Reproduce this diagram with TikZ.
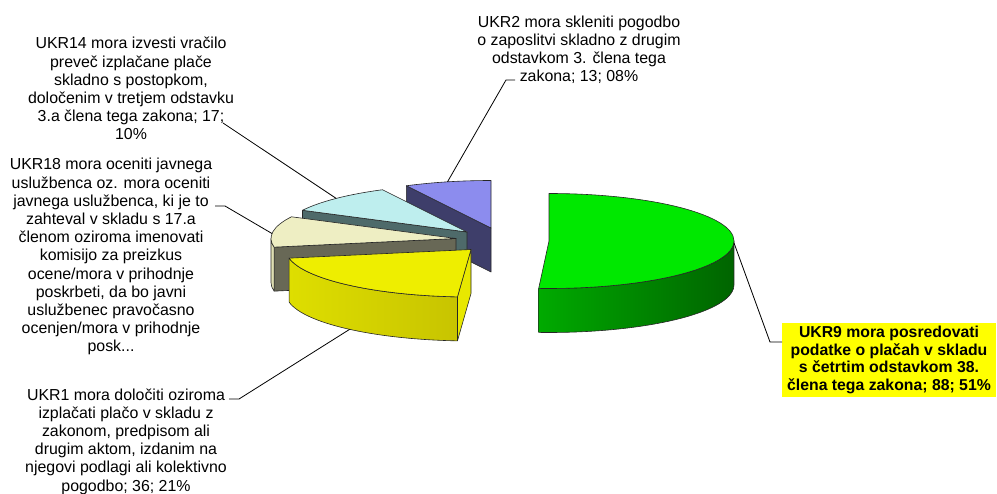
\documentclass[tikz,border=0pt]{standalone}
\usepackage{fontspec}
\setmainfont{Liberation Sans}
\definecolor{greentop}{RGB}{0,232,0}
\definecolor{greenlit}{RGB}{0,170,0}
\definecolor{greenmid}{RGB}{0,130,0}
\definecolor{greendark}{RGB}{0,100,0}
\definecolor{yellowtop}{RGB}{238,238,0}
\definecolor{yellowleft}{RGB}{222,222,0}
\definecolor{yellowdark}{RGB}{198,194,0}
\definecolor{yellowface}{RGB}{232,232,0}
\definecolor{beigetop}{RGB}{238,238,195}
\definecolor{beigewall}{RGB}{222,222,178}
\definecolor{beigeface}{RGB}{104,104,86}
\definecolor{cyantop}{RGB}{190,238,238}
\definecolor{cyanface}{RGB}{78,106,106}
\definecolor{lavtop}{RGB}{140,140,238}
\definecolor{lavface}{RGB}{62,62,106}
\definecolor{notefill}{RGB}{255,255,0}
\begin{document}
\begin{tikzpicture}[x=1pt,y=-1pt]
	\tikzset{
		slicerim/.style={draw=black!85,line width=0.6pt,line join=round},
		ell/.style={x radius=185,y radius=47.5},
		lbl/.style={align=center,inner sep=0pt,anchor=base,font=\fontsize{15.9}{18.2}\selectfont},
		lead/.style={draw=black,line width=0.8pt}
	}
	\useasboundingbox (0,0) rectangle (997,494);

	\coordinate (L) at (491,228);
	\coordinate (Lb) at (491,272);
	\coordinate (Cy) at (467,232);
	\coordinate (Cyb) at (467,276);
	\coordinate (B) at (456,238.5);
	\coordinate (Bb) at (456,282.5);
	\coordinate (Y) at (471,249.5);
	\coordinate (Yb) at (471,293.5);
	\coordinate (G) at (549,241);

	\filldraw[slicerim,fill=lavface] (L) -- ++(242.8:185 and 47.5) -- ++(0,44) -- (Lb) -- cycle;
	\filldraw[slicerim,fill=lavtop] (L) -- ++(242.8:185 and 47.5) arc[ell,start angle=242.8,end angle=270] -- cycle;

	\filldraw[slicerim,fill=cyanface] (Cy) -- ++(207.2:185 and 47.5) -- ++(0,44) -- (Cyb) -- cycle;
	\filldraw[slicerim,fill=cyantop] (Cy) -- ++(207.2:185 and 47.5) arc[ell,start angle=207.2,end angle=242.8] -- cycle;

	\filldraw[slicerim,fill=beigeface] (B) -- ++(169.5:185 and 47.5) -- ++(0,44) -- (Bb) -- cycle;
	\filldraw[slicerim,fill=beigewall] (B) ++(169.5:185 and 47.5) arc[ell,start angle=169.5,end angle=180] -- ++(0,44) arc[ell,start angle=180,end angle=169.5] -- cycle;
	\filldraw[slicerim,fill=beigetop] (B) -- ++(169.5:185 and 47.5) arc[ell,start angle=169.5,end angle=207.2] -- cycle;

	\filldraw[slicerim,fill=yellowface] (Y) -- ++(94.2:185 and 47.5) -- ++(0,44) -- (Yb) -- cycle;
	\shadedraw[slicerim,left color=yellowleft,middle color=yellowtop,right color=yellowdark] (Y) ++(94.2:185 and 47.5) arc[ell,start angle=94.2,end angle=169.5] -- ++(0,44) arc[ell,start angle=169.5,end angle=94.2] -- cycle;
	\filldraw[slicerim,fill=yellowtop] (Y) -- ++(94.2:185 and 47.5) arc[ell,start angle=94.2,end angle=169.5] -- cycle;

	\shadedraw[slicerim,left color=greenlit,middle color=greenmid,right color=greendark] (G) ++(0:185 and 47.5) arc[ell,start angle=0,end angle=93.2] -- ++(0,44) arc[ell,start angle=93.2,end angle=0] -- cycle;
	\filldraw[slicerim,fill=greentop] (G) -- ++(-90:185 and 47.5) arc[ell,start angle=-90,end angle=93.2] -- cycle;

	\path (L) ++(256.4:185 and 47.5) coordinate (p2);
	\path (Cy) ++(225:185 and 47.5) coordinate (p14);
	\path (B) ++(186:185 and 47.5) coordinate (p18);
	\path (Yb) ++(131:185 and 47.5) coordinate (p1);
	\path (G) ++(2:185 and 47.5) coordinate (p9);

	\node[lbl] (lbl14) at (131,140) {UKR14 mora izvesti vračilo\\preveč izplačane plače\\skladno s postopkom,\\določenim v tretjem odstavku\\3.a člena tega zakona; 17;\\10\%};
	\node[lbl] (lbl18) at (111,352) {UKR18 mora oceniti javnega\\uslužbenca oz. mora oceniti\\javnega uslužbenca, ki je to\\zahteval v skladu s 17.a\\členom oziroma imenovati\\komisijo za preizkus\\ocene/mora v prihodnje\\poskrbeti, da bo javni\\uslužbenec pravočasno\\ocenjen/mora v prihodnje\\posk...};
	\node[lbl] (lbl1) at (126,491) {UKR1 mora določiti oziroma\\izplačati plačo v skladu z\\zakonom, predpisom ali\\drugim aktom, izdanim na\\njegovi podlagi ali kolektivno\\pogodbo; 36; 21\%};
	\node[lbl] (lbl2) at (579,82) {UKR2 mora skleniti pogodbo\\o zaposlitvi skladno z drugim\\odstavkom 3. člena tega\\zakona; 13; 08\%};
	\node[fill=notefill,inner sep=0pt,minimum width=214pt,minimum height=74pt,align=center,font=\bfseries\fontsize{15.8}{17.6}\selectfont] (lbl9) at (889,360) {UKR9 mora posredovati\\podatke o plačah v skladu\\s četrtim odstavkom 38.\\člena tega zakona; 88; 51\%};

	\coordinate (a14) at (223,123);
	\coordinate (a18) at (215,206);
	\coordinate (a1) at (229,399);
	\coordinate (a2) at (515,80);
	\coordinate (a9) at (782,342);
	\draw[lead] (a14) -- (p14);
	\draw[lead] (a18) -- ++(10,0) -- (p18);
	\draw[lead] (a1) -- ++(10,0) -- (p1);
	\draw[lead] (a2) -- ++(-9,0) -- (p2);
	\draw[lead] (a9) -- ++(-12,0) -- (p9);
\end{tikzpicture}
\end{document}
